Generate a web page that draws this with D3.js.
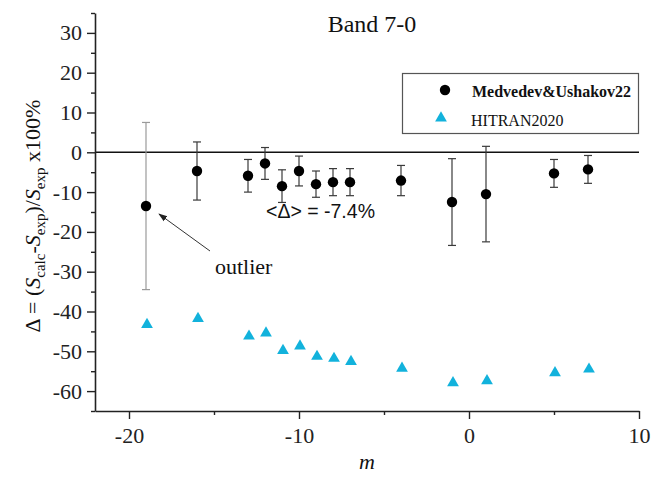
<!DOCTYPE html>
<html>
<head>
<meta charset="utf-8">
<script src="https://cdn.jsdelivr.net/npm/d3@7"></script>
<style>
  html, body { margin: 0; padding: 0; background: #fff; }
  svg { display: block; }
</style>
</head>
<body>
<svg id="chart" width="653" height="483"></svg>
<script>
// ---- data ----
const mValues   = [-19, -16, -13, -12, -11, -10, -9, -8, -7, -4, -1, 1, 5, 7];
const mu22      = [-13.5, -4.7, -5.9, -2.8, -8.5, -4.7, -8.0, -7.5, -7.5, -7.1, -12.5, -10.5, -5.3, -4.3];
const mu22Err   = [21.0, 7.3, 4.1, 4.0, 4.1, 3.75, 3.3, 3.4, 3.4, 3.8, 10.9, 12.0, 3.5, 3.5];
const hitran    = [-43.3, -41.8, -46.2, -45.4, -49.8, -48.7, -51.3, -51.8, -52.6, -54.3, -57.9, -57.4, -55.4, -54.5];
const outlierM  = -19;
const xMajor    = [-20, -10, 0, 10];
const xMinor    = [-15, -5, 5];
const yMajor    = [30, 20, 10, 0, -10, -20, -30, -40, -50, -60];
const yMinor    = [35, 25, 15, 5, -5, -15, -25, -35, -45, -55, -65];
const seriesNames = ["Medvedev&Ushakov22", "HITRAN2020"];
const titleText = "Band 7-0";
const meanText  = "<\u0394> = -7.4%";
const outlierText = "outlier";

// ---- layout ----
const svg = d3.select("#chart");
const L = 95, R = 639, T = 13, B = 411;
const x = d3.scaleLinear().domain([-22, 10]).range([L, R]);
const y = d3.scaleLinear().domain([-65, 35]).range([B, T]);
const serif = "'Liberation Serif', 'Times New Roman', serif";
const sans = "'Liberation Sans', Arial, sans-serif";
const axisColor = "#222";
const cyan = "#12b2dc";
const fmt = d => String(d);

// zero line
svg.append("line")
  .attr("x1", L).attr("x2", R).attr("y1", y(0)).attr("y2", y(0))
  .attr("stroke", "#111").attr("stroke-width", 1.6);

// axes
function styleAxis(g) {
  g.select(".domain").attr("stroke", axisColor).attr("stroke-width", 1.6);
  g.selectAll(".tick line").attr("stroke", axisColor).attr("stroke-width", 1.4);
  g.selectAll(".tick text").attr("fill", "#222")
    .style("font-family", serif).style("font-size", "22px");
}
const gx = svg.append("g").attr("transform", `translate(0,${B})`)
  .call(d3.axisBottom(x).tickValues(xMajor).tickSize(8).tickPadding(6).tickSizeOuter(0).tickFormat(fmt));
styleAxis(gx);
gx.selectAll(".tick text").attr("dy", "0.8em");
const gxm = svg.append("g").attr("transform", `translate(0,${B})`)
  .call(d3.axisBottom(x).tickValues(xMinor).tickSize(4).tickSizeOuter(0).tickFormat(""));
styleAxis(gxm); gxm.select(".domain").remove();

const gy = svg.append("g").attr("transform", `translate(${L},0)`)
  .call(d3.axisLeft(y).tickValues(yMajor).tickSize(8).tickPadding(5).tickSizeOuter(0).tickFormat(fmt));
styleAxis(gy);
const gym = svg.append("g").attr("transform", `translate(${L},0)`)
  .call(d3.axisLeft(y).tickValues(yMinor).tickSize(4).tickSizeOuter(0).tickFormat(""));
styleAxis(gym); gym.select(".domain").remove();

// error bars
const pts = mValues.map((m, i) => ({ m, v: mu22[i], e: mu22Err[i], h: hitran[i] }));
const eb = svg.append("g");
pts.forEach(p => {
  const col = p.m === outlierM ? "#9a9a9a" : "#3a3a3a";
  const cx = x(p.m), y1 = y(p.v + p.e), y2 = y(p.v - p.e);
  eb.append("line").attr("x1", cx).attr("x2", cx).attr("y1", y1).attr("y2", y2)
    .attr("stroke", col).attr("stroke-width", 1.2);
  [y1, y2].forEach(yy => eb.append("line")
    .attr("x1", cx - 4).attr("x2", cx + 4).attr("y1", yy).attr("y2", yy)
    .attr("stroke", col).attr("stroke-width", 1.2));
});

// circles
svg.append("g").selectAll("circle").data(pts).join("circle")
  .attr("cx", d => x(d.m)).attr("cy", d => y(d.v)).attr("r", 5.2)
  .attr("fill", "#000");

// triangles
const tri = d3.symbol().type(d3.symbolTriangle).size(60);
svg.append("g").selectAll("path").data(pts).join("path")
  .attr("d", tri)
  .attr("transform", d => `translate(${x(d.m) + 1},${y(d.h)})`)
  .attr("fill", cyan);

// title
svg.append("text").attr("x", 372).attr("y", 32).attr("text-anchor", "middle")
  .style("font-family", serif).style("font-size", "24px").attr("fill", "#111")
  .text(titleText);

// mean annotation
svg.append("text").attr("x", 266).attr("y", 218)
  .style("font-family", sans).style("font-size", "19.5px").attr("fill", "#111")
  .text(meanText);

// outlier annotation + arrow
svg.append("defs").append("marker")
  .attr("id", "ah").attr("viewBox", "0 0 10 10").attr("refX", 9).attr("refY", 5)
  .attr("markerWidth", 9).attr("markerHeight", 9).attr("markerUnits", "userSpaceOnUse")
  .attr("orient", "auto")
  .append("path").attr("d", "M0,1.5 L10,5 L0,8.5 Z").attr("fill", "#222");
svg.append("line").attr("x1", 210).attr("y1", 251).attr("x2", 159).attr("y2", 214)
  .attr("stroke", "#333").attr("stroke-width", 1).attr("marker-end", "url(#ah)");
svg.append("text").attr("x", 215).attr("y", 274)
  .style("font-family", serif).style("font-size", "22px").attr("fill", "#111")
  .text(outlierText);

// legend
const lg = svg.append("g");
lg.append("rect").attr("x", 402.5).attr("y", 73.5).attr("width", 236).attr("height", 60)
  .attr("fill", "#fff").attr("stroke", "#555").attr("stroke-width", 1.2);
lg.append("circle").attr("cx", 445).attr("cy", 90).attr("r", 5.2).attr("fill", "#000");
lg.append("path").attr("d", tri).attr("transform", "translate(441,118)").attr("fill", cyan);
lg.append("text").attr("x", 472).attr("y", 97)
  .style("font-family", serif).style("font-size", "16px").style("font-weight", "bold")
  .attr("fill", "#111").text(seriesNames[0]);
lg.append("text").attr("x", 471).attr("y", 126)
  .style("font-family", serif).style("font-size", "16px")
  .attr("fill", "#111").text(seriesNames[1]);

// x label
svg.append("text").attr("x", 367).attr("y", 469).attr("text-anchor", "middle")
  .style("font-family", serif).style("font-size", "22px").style("font-style", "italic")
  .attr("fill", "#111").text("m");

// y label
const yl = svg.append("text")
  .attr("transform", `translate(40,216) rotate(-90)`)
  .attr("text-anchor", "middle")
  .style("font-family", serif).style("font-size", "22px").attr("fill", "#111");
yl.append("tspan").text("\u0394 = (");
yl.append("tspan").style("font-style", "italic").text("S");
yl.append("tspan").attr("dy", 5).style("font-size", "15px").text("calc");
yl.append("tspan").attr("dy", -5).text("-");
yl.append("tspan").style("font-style", "italic").text("S");
yl.append("tspan").attr("dy", 5).style("font-size", "15px").text("exp");
yl.append("tspan").attr("dy", -5).text(")/");
yl.append("tspan").style("font-style", "italic").text("S");
yl.append("tspan").attr("dy", 5).style("font-size", "15px").text("exp");
yl.append("tspan").attr("dy", -5).text(" x100%");
</script>
</body>
</html>
